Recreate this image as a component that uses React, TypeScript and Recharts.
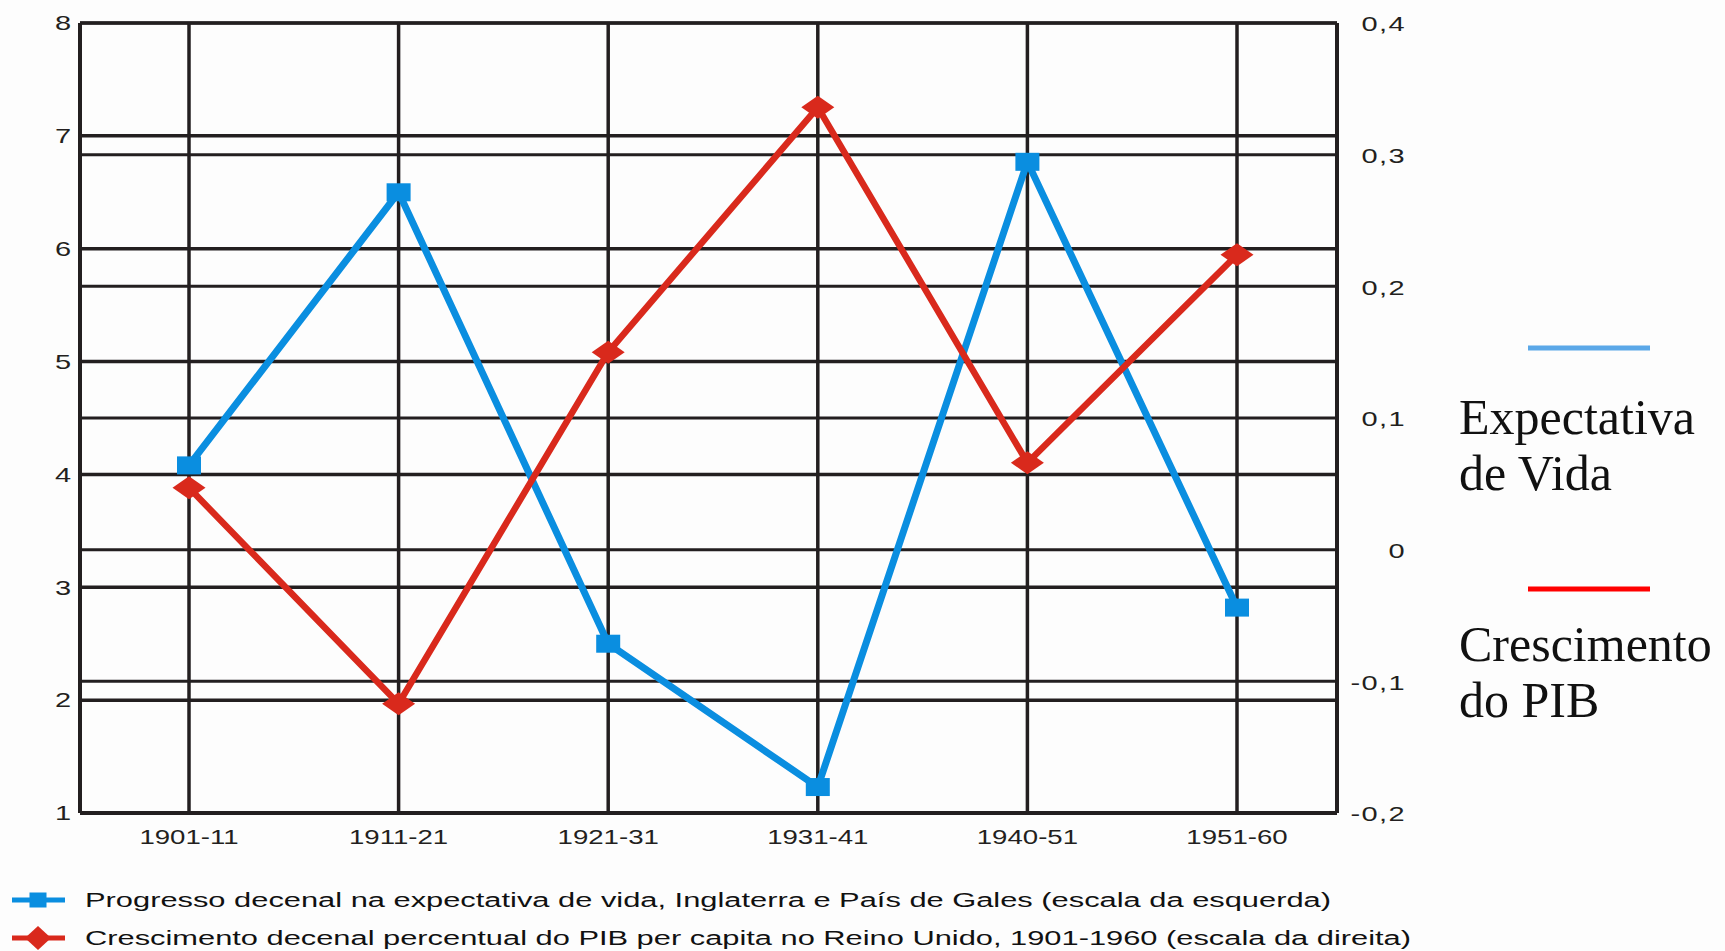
import { LineChart, Line, XAxis, YAxis, CartesianGrid, Legend } from 'recharts';

// decades on the x axis
const periods = ['1901-11', '1911-21', '1921-31', '1931-41', '1940-51', '1951-60'];
// left scale: decennial progress in life expectancy (years)
const lifeExpectancy = [4.08, 6.5, 2.5, 1.23, 6.77, 2.82];
// right scale: decennial % growth of GDP per capita
const gdpGrowth = [0.047, -0.117, 0.15, 0.336, 0.066, 0.224];

const leftTicks = [1, 2, 3, 4, 5, 6, 7, 8];
const rightTicks = [-0.2, -0.1, 0, 0.1, 0.2, 0.3, 0.4];

const seriesNames = [
  'Progresso decenal na expectativa de vida, Inglaterra e País de Gales (escala da esquerda)',
  'Crescimento decenal percentual do PIB per capita no Reino Unido, 1901-1960 (escala da direita)',
];
const sideLabels = [
  ['Expectativa', 'de Vida'],
  ['Crescimento', 'do PIB'],
];

const data = periods.map((period, i) => ({
  period,
  vida: lifeExpectancy[i],
  pib: gdpGrowth[i],
}));

const INK = '#231f20';
const BLUE = '#0a8ee0';
const RED = '#d9291c';
const SANS = '"Liberation Sans", Arial, sans-serif';
const SX = 1.38; // the original picture is stretched horizontally

const fmtComma = (v: number) => String(Math.round(v * 10) / 10).replace('.', ',');

function LeftTick({ x, y, payload }: any) {
  return (
    <g transform={`translate(${x},${y}) scale(${SX},1)`}>
      <text x={0} y={0} dy="0.35em" textAnchor="end" fontSize={21} fill={INK} fontFamily={SANS}>
        {payload.value}
      </text>
    </g>
  );
}

function RightTick({ x, y, payload }: any) {
  return (
    <g transform={`translate(${x + 69},${y + 1}) scale(${SX},1)`}>
      <text x={0} y={0} dy="0.35em" textAnchor="end" fontSize={21} fill={INK} fontFamily={SANS} letterSpacing={1}>
        {fmtComma(payload.value)}
      </text>
    </g>
  );
}

function BottomTick({ x, y, payload }: any) {
  return (
    <g transform={`translate(${x},${y + 24}) scale(${SX},1)`}>
      <text x={0} y={0} dy="0.35em" textAnchor="middle" fontSize={20} fill={INK} fontFamily={SANS}>
        {payload.value}
      </text>
    </g>
  );
}

function SquareDot({ cx, cy, w = 24, h = 18, color = BLUE }: any) {
  if (cx == null || cy == null) return null;
  return <rect x={cx - w / 2} y={cy - h / 2} width={w} height={h} fill={color} />;
}

function DiamondDot({ cx, cy, w = 33, h = 23, color = RED }: any) {
  if (cx == null || cy == null) return null;
  return (
    <path
      d={`M${cx - w / 2},${cy} L${cx},${cy - h / 2} L${cx + w / 2},${cy} L${cx},${cy + h / 2} Z`}
      fill={color}
    />
  );
}

function LegendLayer({ payload }: any) {
  const items = payload || [];
  const rows = [900, 938];
  const textEnds = [1331, 1411];
  const keys = ['vida', 'pib'];
  return (
    <svg width={1725} height={951} style={{ display: 'block' }}>
      {keys.map((key, i) => {
        const item = items.find((it: any) => it.dataKey === key);
        if (!item) return null;
        return (
          <g key={key}>
            <line x1={12} x2={65} y1={rows[i]} y2={rows[i]} stroke={item.color} strokeWidth={5} />
            {i === 0 ? (
              <SquareDot cx={38} cy={rows[i]} w={17} h={15} color={item.color} />
            ) : (
              <DiamondDot cx={38} cy={rows[i]} w={26} h={24} color={item.color} />
            )}
            <text
              x={85}
              y={rows[i]}
              dy="0.35em"
              fontSize={20}
              fill="#111"
              fontFamily={SANS}
              textLength={textEnds[i] - 85}
              lengthAdjust="spacingAndGlyphs"
            >
              {item.value}
            </text>
          </g>
        );
      })}
      {/* side legend */}
      <line x1={1528} x2={1650} y1={348} y2={348} stroke="#5ba8e8" strokeWidth={5} />
      <line x1={1528} x2={1650} y1={589} y2={589} stroke="#ff0000" strokeWidth={5} />
      {sideLabels.map((lines, i) =>
        lines.map((t, j) => (
          <text
            key={t}
            x={1459}
            y={(i === 0 ? 434 : 661) + j * 56}
            fontSize={50}
            fill="#111"
            fontFamily='"Liberation Serif", "Times New Roman", serif'
          >
            {t}
          </text>
        ))
      )}
    </svg>
  );
}

export default function App() {
  return (
    <div style={{ position: 'absolute', left: 0, top: 0, width: 1725, height: 951, background: '#fdfdfd' }}>
      <LineChart width={1725} height={951} data={data} margin={{ top: 23, right: 0, bottom: 0, left: 0 }}>
        <CartesianGrid yAxisId="left" stroke={INK} strokeWidth={3.5} strokeOpacity={1} />
        <CartesianGrid yAxisId="right" stroke={INK} strokeWidth={3} vertical={false} strokeOpacity={1} />
        <XAxis
          dataKey="period"
          scale="point"
          padding={{ left: 109, right: 100 }}
          height={138}
          tickSize={0}
          tickMargin={0}
          tick={<BottomTick />}
          axisLine={{ stroke: INK, strokeWidth: 4 }}
          tickLine={false}
        />
        <YAxis
          yAxisId="left"
          orientation="left"
          domain={[1, 8]}
          ticks={leftTicks}
          width={80}
          tickSize={0}
          tickMargin={9}
          tick={<LeftTick />}
          axisLine={{ stroke: INK, strokeWidth: 4 }}
          tickLine={false}
        />
        <YAxis
          yAxisId="right"
          orientation="right"
          domain={[-0.2, 0.4]}
          ticks={rightTicks}
          width={388}
          tickSize={0}
          tickMargin={0}
          tick={<RightTick />}
          axisLine={{ stroke: INK, strokeWidth: 4 }}
          tickLine={false}
        />
        <Line
          yAxisId="left"
          dataKey="vida"
          name={seriesNames[0]}
          stroke={BLUE}
          strokeWidth={7}
          dot={<SquareDot color={BLUE} />}
          activeDot={false}
          isAnimationActive={false}
        />
        <Line
          yAxisId="right"
          dataKey="pib"
          name={seriesNames[1]}
          stroke={RED}
          strokeWidth={6.5}
          dot={<DiamondDot color={RED} />}
          activeDot={false}
          isAnimationActive={false}
        />
        <Legend
          verticalAlign="middle"
          align="center"
          layout="horizontal"
          content={<LegendLayer />}
          wrapperStyle={{ left: 0, top: 0, width: 1725, height: 951, pointerEvents: 'none' }}
        />
      </LineChart>
    </div>
  );
}
